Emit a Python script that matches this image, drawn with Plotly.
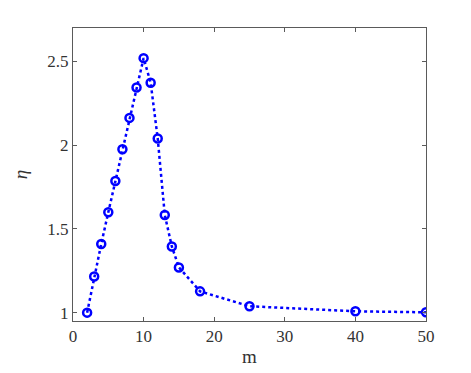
import plotly.graph_objects as go

# data
m = [2, 3, 4, 5, 6, 7, 8, 9, 10, 11, 12, 13, 14, 15, 18, 25, 40, 50]
eta = [1.0, 1.216, 1.41, 1.60, 1.786, 1.976, 2.163, 2.345, 2.52, 2.373,
       2.04, 1.583, 1.395, 1.27, 1.127, 1.038, 1.008, 1.002]

x_ticks = [0, 10, 20, 30, 40, 50]
y_ticks = [1, 1.5, 2, 2.5]

serif = 'Liberation Serif, Times New Roman, serif'

fig = go.Figure()
fig.add_trace(go.Scatter(
    x=m, y=eta,
    mode='lines+markers',
    line=dict(color='#0000FF', width=2.5, dash='dot'),
    marker=dict(symbol='circle-open', size=8, color='#0000FF',
                line=dict(width=2.5, color='#0000FF')),
    showlegend=False))

axis_style = dict(
    showline=True, linecolor='#5a5a5a', linewidth=1, mirror='ticks',
    ticks='inside', ticklen=4, tickcolor='#5a5a5a', showgrid=False,
    zeroline=False, tickfont=dict(family=serif, size=17, color='#333333'))

fig.update_xaxes(range=[0, 50], tickvals=x_ticks,
                 title=dict(text='m', font=dict(family=serif, size=19, color='#333333'),
                            standoff=4),
                 **axis_style)
fig.update_yaxes(range=[0.95, 2.7], tickvals=y_ticks,
                 title=dict(text='<i>η</i>', font=dict(family=serif, size=19, color='#333333'),
                            standoff=14),
                 **axis_style)

# page body adds an 8px offset, so margins are shifted to put the box where the reference has it
fig.update_layout(
    width=471, height=373,
    font=dict(family=serif),
    margin=dict(l=53, r=53, t=20, b=60),
    plot_bgcolor='white', paper_bgcolor='white')

fig.write_html("out.html")
